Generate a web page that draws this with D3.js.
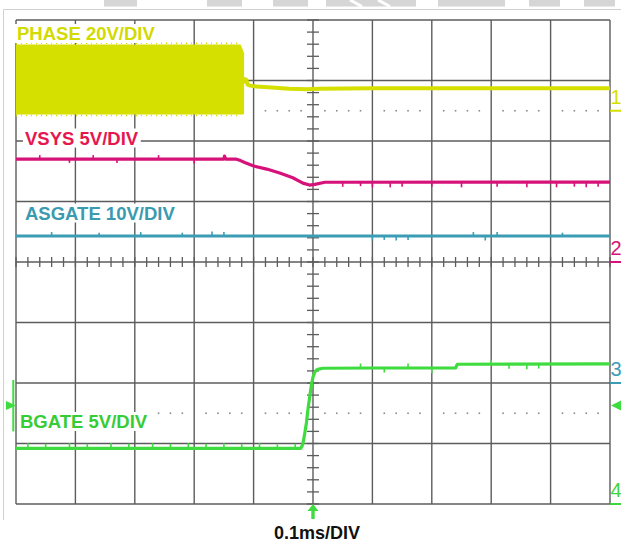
<!DOCTYPE html>
<html>
<head>
<meta charset="utf-8">
<script src="https://cdn.jsdelivr.net/npm/d3@7"></script>
<style>
  html, body { margin: 0; padding: 0; background: #fff; }
  svg { display: block; font-family: "Liberation Sans", Arial, sans-serif; }
</style>
</head>
<body>
<svg id="chart" width="621" height="546"></svg>
<script>
// ---- screen setup: 10 x 8 divisions, 0.1 ms/div, trigger at centre ----
const gridTimes = d3.range(11).map(i => -0.5 + i * 0.1);   // ms
const gridDivs = d3.range(-4, 5);                           // vertical divisions
const timeLabel = "0.1ms/DIV";

// ---- channels ----
const channelNames  = ["PHASE", "VSYS", "ASGATE", "BGATE"];
const channelLabels = ["PHASE 20V/DIV", "VSYS 5V/DIV", "ASGATE 10V/DIV", "BGATE 5V/DIV"];
const voltsPerDiv   = [20, 5, 10, 5];
const groundDiv     = [2.5, 0, -2, -4];        // ground marker position (div)
const markerNumbers = ["1", "2", "3", "4"];
const triggerDiv    = -2.37;

// PHASE: switching envelope (V) until the converter stops, then the settled node
const phaseBurstT  = [-0.5, -0.122, -0.119, -0.116];
const phaseBurstHi = [21.9, 21.9, 20.6, 19.0];
const phaseBurstLo = [-1.2, -1.2, -1.2, -1.1];
const phaseT = [-0.116, -0.114, -0.112, -0.110, -0.106, -0.095, -0.07, -0.04, -0.01, 0.01, 0.1, 0.3, 0.5];
const phaseV = [11.0, 9.6, 10.2, 8.6, 8.3, 8.0, 7.7, 7.3, 7.1, 7.3, 7.4, 7.4, 7.4];

// VSYS (V)
const vsysT = [-0.5, -0.15, -0.149, -0.147, -0.129, -0.122, -0.115, -0.101, -0.078, -0.056, -0.034, -0.017, -0.006, 0.003, 0.02, 0.5];
const vsysV = [8.51, 8.51, 8.75, 8.51, 8.50, 8.38, 8.22, 7.95, 7.68, 7.36, 6.96, 6.52, 6.36, 6.42, 6.59, 6.60];
const vsysNoiseT = [-0.46, -0.41, -0.37, -0.33, -0.26, -0.2, 0.05, 0.08, 0.1, 0.13, 0.15, 0.2, 0.25, 0.31, 0.36, 0.41, 0.44, 0.46, 0.48];
const vsysNoiseV = [0.2, -0.2, 0.2, -0.2, 0.2, -0.25, -0.25, -0.2, -0.3, -0.3, -0.25, -0.25, -0.3, -0.25, -0.3, -0.3, -0.25, -0.3, -0.25];

// ASGATE (V)
const asgateT = [-0.5, 0.5];
const asgateV = [24.3, 24.3];
const asgateNoiseT = [-0.44, -0.36, -0.29, -0.22, -0.17, -0.15, 0.1, 0.12, 0.14, 0.16, 0.27, 0.29, 0.31, 0.42];
const asgateNoiseV = [0.4, 0.3, 0.4, 0.3, 0.5, 0.4, -0.5, -0.4, -0.5, -0.4, 0.4, -0.5, 0.4, 0.3];

// BGATE (V)
const bgateT = [-0.5, -0.0207, -0.0185, -0.0168, -0.0140, -0.0111, -0.0083, -0.0056, -0.0028, 0, 0.003, 0.0057, 0.010, 0.0163, 0.1, 0.24, 0.243, 0.5];
const bgateV = [4.60, 4.60, 4.78, 5.04, 5.8, 6.69, 7.9, 8.84, 9.8, 10.50, 10.9, 11.07, 11.15, 11.22, 11.24, 11.24, 11.55, 11.58];
const bgateNoiseT = [-0.48, -0.45, -0.41, -0.38, -0.34, -0.31, -0.27, -0.24, -0.21, -0.18, -0.15, -0.12, -0.09, -0.06, -0.03, 0.08, 0.12, 0.16, 0.2, 0.3, 0.33, 0.36, 0.38];
const bgateNoiseV = [0.3, 0.25, 0.3, 0.25, 0.3, 0.25, 0.3, 0.25, 0.3, 0.25, 0.3, 0.25, 0.3, 0.2, 0.25, 0.25, -0.25, 0.25, -0.3, 0.25, -0.25, -0.3, -0.25];

// ---- colours ----
const traceColors = ["#d5df00", "#d6127a", "#3a9db5", "#3fdc3f"];
const labelColors = ["#d2da00", "#e6174f", "#3a9ab0", "#36cc36"];
const markerColors = ["#d5df00", "#d6127a", "#3a9db5", "#3fd53f"];
const gridColor = "#5c5c5c";

// ---- scales ----
const svg = d3.select("#chart");
const x = d3.scaleLinear().domain([-0.5, 0.5]).range([16, 610]);
const y = d3.scaleLinear().domain([-4, 4]).range([504, 20]);
const chY = ch => v => y(groundDiv[ch] + v / voltsPerDiv[ch]);

// ---- watermark strip and outer border along the top ----
const stripSpans = [[104, 137], [207, 242], [273, 308], [326, 416], [438, 505], [529, 560], [584, 615]];
svg.append("g").selectAll("rect").data(stripSpans).join("rect")
  .attr("x", d => d[0]).attr("y", 0).attr("width", d => d[1] - d[0]).attr("height", 6.5)
  .attr("fill", "#d6d6d6");
svg.append("g").selectAll("line").data([[350, 362], [378, 390]]).join("line")
  .attr("x1", d => d[0]).attr("y1", 0).attr("x2", d => d[1]).attr("y2", 6.5)
  .attr("stroke", "#fff").attr("stroke-width", 3);
svg.append("path").attr("d", "M3.5,520 V9.5 H621")
  .attr("fill", "none").attr("stroke", "#d0d0d0").attr("stroke-width", 1);

// ---- graticule ----
const grid = svg.append("g");
grid.selectAll(".v").data(gridTimes).join("line")
  .attr("x1", d => x(d)).attr("x2", d => x(d)).attr("y1", y(4)).attr("y2", y(-4))
  .attr("stroke", gridColor).attr("stroke-width", 1.4);
grid.selectAll(".h").data(gridDivs).join("line")
  .attr("x1", x(-0.5)).attr("x2", x(0.5)).attr("y1", d => y(d)).attr("y2", d => y(d))
  .attr("stroke", gridColor).attr("stroke-width", 1.4);

// centre-axis minor ticks (1/5 division)
const minorT = d3.range(51).map(i => -0.5 + i * 0.02);
const minorD = d3.range(41).map(i => -4 + i * 0.2);
grid.selectAll(".mt").data(minorT).join("line")
  .attr("x1", d => x(d)).attr("x2", d => x(d)).attr("y1", y(0) - 5).attr("y2", y(0) + 5)
  .attr("stroke", gridColor).attr("stroke-width", 1.3);
grid.selectAll(".md").data(minorD).join("line")
  .attr("x1", x(0) - 6).attr("x2", x(0) + 6).attr("y1", d => y(d)).attr("y2", d => y(d))
  .attr("stroke", gridColor).attr("stroke-width", 1.3);

// dotted reference rows at +/-2.5 div
const dotT = minorT.filter((t, i) => i % 5 !== 0);
[2.5, -2.5].forEach(row => {
  grid.append("g").selectAll("rect").data(dotT).join("rect")
    .attr("x", d => x(d) - 0.8).attr("y", y(row) - 0.8).attr("width", 1.6).attr("height", 1.6)
    .attr("fill", "#8a8a8a");
});

// ---- traces ----
const traces = svg.append("g");

// PHASE switching burst
traces.append("path")
  .datum(phaseBurstT.map((t, i) => ({ t, hi: phaseBurstHi[i], lo: phaseBurstLo[i] })))
  .attr("d", d3.area().x(d => x(d.t)).y0(d => chY(0)(d.lo)).y1(d => chY(0)(d.hi)))
  .attr("fill", traceColors[0]);
// ragged edges of the burst
[[phaseBurstHi, -1.2], [phaseBurstLo, 1.2]].forEach(([arr, off]) => {
  traces.append("line")
    .attr("x1", x(phaseBurstT[0])).attr("x2", x(phaseBurstT[1]))
    .attr("y1", chY(0)(arr[0]) + off).attr("y2", chY(0)(arr[0]) + off)
    .attr("stroke", traceColors[0]).attr("stroke-width", 1.5).attr("stroke-dasharray", "1,4");
});

const line = (ch) => d3.line().x(d => x(d[0])).y(d => chY(ch)(d[1]));
const series = [
  [0, d3.zip(phaseT, phaseV), 4],
  [1, d3.zip(vsysT, vsysV), 3.2],
  [2, d3.zip(asgateT, asgateV), 3.2],
  [3, d3.zip(bgateT, bgateV), 3.2]
];
series.forEach(([ch, pts, w]) => {
  traces.append("path").datum(pts).attr("d", line(ch))
    .attr("fill", "none").attr("stroke", traceColors[ch]).attr("stroke-width", w)
    .attr("stroke-linejoin", "round");
});

// small glitches on the traces
const baseAt = (T, V, t) => d3.scaleLinear().domain(T).range(V)(t);
const noise = [
  [1, vsysNoiseT, vsysNoiseV, vsysT, vsysV],
  [2, asgateNoiseT, asgateNoiseV, asgateT, asgateV],
  [3, bgateNoiseT, bgateNoiseV, bgateT, bgateV]
];
noise.forEach(([ch, nt, nv, T, V]) => {
  traces.append("g").selectAll("line").data(d3.zip(nt, nv)).join("line")
    .attr("x1", d => x(d[0])).attr("x2", d => x(d[0]))
    .attr("y1", d => chY(ch)(baseAt(T, V, d[0])))
    .attr("y2", d => chY(ch)(baseAt(T, V, d[0]) + d[1]) + (d[1] > 0 ? -1.5 : 1.5))
    .attr("stroke", traceColors[ch]).attr("stroke-width", 1.6);
});

// ---- channel labels with white backing ----
const labelPos = [[17, 40], [25, 144.5], [25, 219.5], [20, 428]];
const labels = svg.append("g");
channelLabels.forEach((txt, i) => {
  const g = labels.append("g");
  const bg = g.append("rect").attr("fill", "#fff");
  const t = g.append("text")
    .attr("x", labelPos[i][0]).attr("y", labelPos[i][1])
    .attr("font-size", 18.5).attr("font-weight", "bold")
    .attr("fill", labelColors[i]).text(txt);
  const b = t.node().getBBox();
  bg.attr("x", b.x - 2).attr("y", b.y + 1).attr("width", b.width + 4).attr("height", b.height - 2);
});

// ---- ground markers at the right edge ----
const markers = svg.append("g");
markerNumbers.forEach((n, i) => {
  const gy = y(groundDiv[i]);
  markers.append("text").attr("x", 610.5).attr("y", gy - 7)
    .attr("font-size", 20).attr("fill", markerColors[i]).text(n);
  markers.append("line").attr("x1", 610).attr("x2", 621).attr("y1", gy).attr("y2", gy)
    .attr("stroke", markerColors[i]).attr("stroke-width", 2);
});

// ---- trigger markers ----
const trig = traceColors[3];
const ty = y(triggerDiv);
svg.append("line").attr("x1", 13.3).attr("x2", 13.3).attr("y1", y(-1.95)).attr("y2", y(-2.8))
  .attr("stroke", trig).attr("stroke-width", 2);
svg.append("path").attr("d", `M6,${ty - 4.5} L16,${ty} L6,${ty + 4.5} Z`).attr("fill", trig);
svg.append("path").attr("d", `M621,${ty - 5} L611,${ty} L621,${ty + 5} Z`).attr("fill", trig);
const tx = x(0);
svg.append("path").attr("d", `M${tx},504 L${tx + 5.5},511 L${tx - 5.5},511 Z`).attr("fill", trig);
svg.append("rect").attr("x", tx - 1.7).attr("y", 510).attr("width", 3.4).attr("height", 9).attr("fill", trig);

// ---- time base label ----
svg.append("text").attr("x", 317).attr("y", 539)
  .attr("text-anchor", "middle").attr("font-size", 18).attr("font-weight", "bold")
  .attr("fill", "#111").text(timeLabel);
</script>
</body>
</html>
